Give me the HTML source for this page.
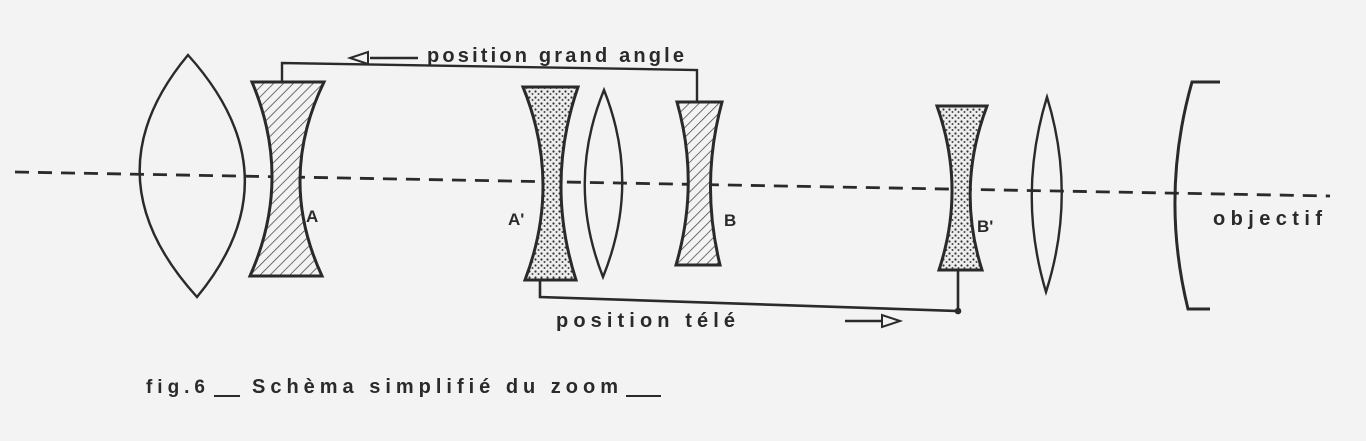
<!DOCTYPE html>
<html><head><meta charset="utf-8"><style>
html,body{margin:0;padding:0;background:#f2f3f2;}
svg{display:block}
text{font-family:"Liberation Sans",sans-serif;font-weight:bold;fill:#2a2a2a}
</style></head><body>
<svg width="1366" height="441" viewBox="0 0 1366 441" xmlns="http://www.w3.org/2000/svg">
<defs>
<pattern id="h" width="7" height="7" patternUnits="userSpaceOnUse" patternTransform="rotate(45)">
<rect width="7" height="7" fill="#f2f3f2"/><line x1="0" y1="0" x2="0" y2="7" stroke="#444" stroke-width="1.5"/></pattern>
<pattern id="d" width="6" height="6" patternUnits="userSpaceOnUse">
<rect width="6" height="6" fill="#ecedec"/><circle cx="1.5" cy="1.5" r="1.1" fill="#333"/><circle cx="4.5" cy="4" r="1" fill="#444"/></pattern>
</defs>
<g stroke="#2a2a2a" fill="none" stroke-width="2.6">
<line x1="15" y1="172" x2="1330" y2="196" stroke-dasharray="14,9" stroke-width="2.8"/>
<path d="M188,55 Q87,176 197,297 Q297,176 188,55Z" stroke-width="2.4"/>
<path d="M252,82 L324,82 Q277,179 322,276 L250,276 Q293,179 252,82Z" fill="url(#h)" stroke-width="3"/>
<path d="M523,87 L578,87 Q545,183 576,280 L525,280 Q562,183 523,87Z" fill="url(#d)" stroke-width="3"/>
<path d="M604,90 Q566,183 603,277 Q641,183 604,90Z" stroke-width="2.4"/>
<path d="M677,102 L722,102 Q700,183 720,265 L676,265 Q700,183 677,102Z" fill="url(#h)" stroke-width="3"/>
<path d="M937,106 L987,106 Q956,188 982,270 L939,270 Q966,188 937,106Z" fill="url(#d)" stroke-width="3"/>
<path d="M1047,97 Q1017,195 1046,292 Q1077,195 1047,97Z" stroke-width="2.4"/>
<path d="M1220,82 L1192,82 Q1160,195 1188,309 L1210,309" stroke-width="3"/>
<polyline points="282,82 282,63 697,70 697,102" stroke-width="2.4"/>
<line x1="370" y1="58" x2="418" y2="58"/>
<path d="M350,58 L368,52 L368,64 Z" stroke-width="2"/>
<polyline points="540,280 540,297 958,311 958,270" stroke-width="2.6"/>
<circle cx="958" cy="311" r="2" fill="#2a2a2a"/>
<line x1="845" y1="321" x2="882" y2="321"/>
<path d="M900,321 L882,315 L882,327 Z" stroke-width="2"/>
<line x1="214" y1="396" x2="240" y2="396" stroke-width="2"/>
<line x1="626" y1="396" x2="661" y2="396" stroke-width="2"/>
</g>
<text x="427" y="62" font-size="20" textLength="257" lengthAdjust="spacing">position grand angle</text>
<text x="556" y="327" font-size="20" textLength="179" lengthAdjust="spacing">position télé</text>
<text x="306" y="222" font-size="17">A</text>
<text x="508" y="225" font-size="17">A'</text>
<text x="724" y="226" font-size="17">B</text>
<text x="977" y="232" font-size="17">B'</text>
<text x="1213" y="225" font-size="20" textLength="109" lengthAdjust="spacing">objectif</text>
<text x="146" y="393" font-size="19" textLength="59" lengthAdjust="spacing">fig.6</text>
<text x="252" y="393" font-size="20" textLength="366" lengthAdjust="spacing">Schèma simplifié du zoom</text>
</svg>
</body></html>
